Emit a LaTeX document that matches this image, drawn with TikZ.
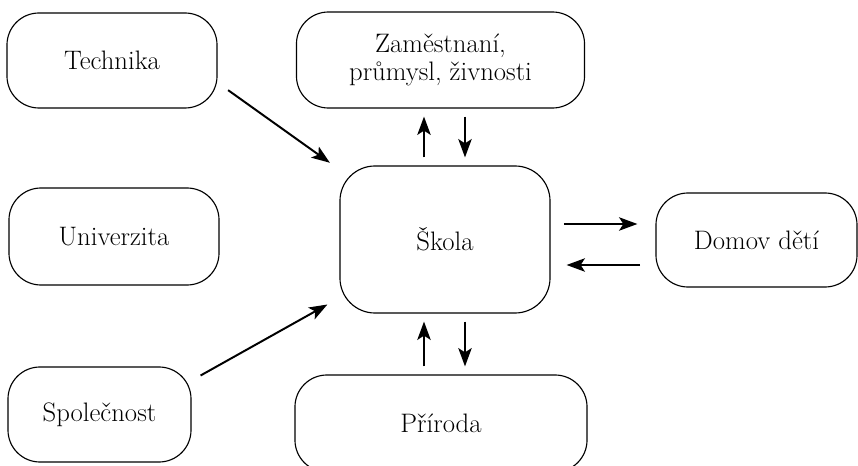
\documentclass[tikz,border=0pt]{standalone}
\usepackage{fontspec}
\usetikzlibrary{arrows.meta,calc}

\tikzset{
  box/.style={draw, line width=0.8pt, rounded corners=0.8cm, align=center,
    font=\fontsize{19}{20}\selectfont, inner sep=0pt},
  pil/.style={->, line width=1.4pt, shorten <=0.2cm, shorten >=0.2cm}
}

\begin{document}
\begin{tikzpicture}[x=0.025cm, y=-0.025cm, >={Stealth[length=13pt,width=9.5pt,inset=3pt]}]
   \useasboundingbox (0,0) rectangle (858,466);

   % outer boxes
   \node[box, minimum width=5.25cm, minimum height=2.375cm] (tech) at (112,60.5) {Technika};
   \node[box, minimum width=7.2cm, minimum height=2.4cm] (zam) at (440.5,60) {Zaměstnaní,\\průmysl, živnosti};
   \node[box, minimum width=5.25cm, minimum height=2.425cm] (univ) at (114,236.5) {Univerzita};
   \node[box, minimum width=5.025cm, minimum height=2.35cm] (domov) at (756.5,240) {Domov dětí};
   \node[box, minimum width=4.575cm, minimum height=2.375cm] (spol) at (99.5,414.5) {Společnost};
   \node[box, minimum width=7.3cm, minimum height=2.425cm] (prir) at (441,423.5) {Příroda};

   % center
   \node[box, rounded corners=0.875cm, minimum width=5.25cm, minimum height=3.675cm] (skola) at (445,239.5) {Škola};

   % x / y positions of the paired arrows
   \coordinate (up) at (424,0);
   \coordinate (dn) at (465,0);
   \coordinate (ri) at (0,224);
   \coordinate (le) at (0,265);

   \draw[pil] ($(tech.east)+(4,25)$) -- ($(skola.north west)+(-3,2)$);
   \draw[pil] ($(spol.north east)+(2,13)$) -- ($(skola.south west)+(-5,-13)$);

   \draw[pil] (skola.north -| up) -- (zam.south -| up);
   \draw[pil] (zam.south -| dn) -- (skola.north -| dn);
   \draw[pil] (prir.north -| up) -- (skola.south -| up);
   \draw[pil] (skola.south -| dn) -- (prir.north -| dn);

   \draw[pil, shorten <=0.33cm, shorten >=0.45cm] (skola.east |- ri) -- (domov.west |- ri);
   \draw[pil, shorten <=0.38cm, shorten >=0.4cm] (domov.west |- le) -- (skola.east |- le);
\end{tikzpicture}
\end{document}
